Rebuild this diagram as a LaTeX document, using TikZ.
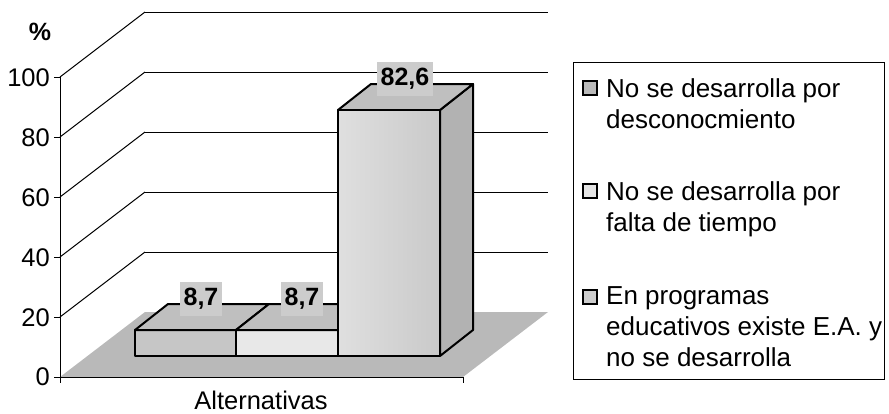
\documentclass[tikz,border=0pt]{standalone}
\usepackage{fontspec}
\setmainfont{Liberation Sans}
\usepackage{tikz}
\usetikzlibrary{positioning}

\tikzset{
  grid line/.style={line width=1},
  bar face/.style={draw, line width=2, line join=round},
  value box/.style={fill=gray!40, inner xsep=4, inner ysep=6, font=\bfseries\fontsize{25}{25}\selectfont},
  axis label/.style={anchor=east, inner sep=0, font=\fontsize{25.5}{25.5}\selectfont},
  legend key/.style={draw, line width=1.5, minimum size=14, inner sep=0},
  legend text/.style={anchor=north west, align=left, inner sep=0, font=\fontsize{26}{31}\selectfont},
}

\begin{document}
\begin{tikzpicture}[x=1pt, y=-1pt]

\useasboundingbox (0,0) rectangle (889,413);

% back wall

\draw[grid line] (145,12) -- (548,12);
\draw[grid line] (145,72) -- (548,72);
\draw[grid line] (145,132) -- (548,132);
\draw[grid line] (145,192) -- (548,192);
\draw[grid line] (145,252) -- (548,252);

% side wall

\draw[grid line] (60,77) -- (145,12);
\draw[grid line] (60,137) -- (145,72);
\draw[grid line] (60,197) -- (145,132);
\draw[grid line] (60,257) -- (145,192);
\draw[grid line] (60,317) -- (145,252);

% floor

\fill[gray!55] (60,377) -- (463,377) -- (548,312) -- (145,312) -- cycle;

% axis and ticks

\draw[grid line] (60,77) -- (60,377) -- (463,377);
\draw[grid line] (54,77) -- (60,77);
\draw[grid line] (54,137) -- (60,137);
\draw[grid line] (54,197) -- (60,197);
\draw[grid line] (54,257) -- (60,257);
\draw[grid line] (54,317) -- (60,317);
\draw[grid line] (54,377) -- (60,377);
\draw[grid line] (60,377) -- (60,383);
\draw[grid line] (463,377) -- (463,383);

\node[axis label] (l100) at (50,78) {100};
\node[axis label] (l80) at (50,138) {80};
\node[axis label] (l60) at (50,198) {60};
\node[axis label] (l40) at (50,258) {40};
\node[axis label] (l20) at (50,318) {20};
\node[axis label] (l0) at (50,377) {0};

\node[font=\bfseries\fontsize{25}{25}\selectfont] (unit) at (40,32) {\%};
\node[inner sep=0, font=\fontsize{25.5}{25.5}\selectfont] (xname) at (261,400) {Alternativas};

% bars

\draw[bar face, fill=gray!45] (135,330) rectangle (236,356);
\draw[bar face, fill=gray!50] (135,330) -- (236,330) -- (269,304) -- (168,304) -- cycle;

\draw[bar face, fill=gray!18] (236,330) rectangle (338,356);
\draw[bar face, fill=gray!50] (236,330) -- (338,330) -- (371,304) -- (269,304) -- cycle;

\draw[bar face, fill=gray!60] (440,356) -- (440,110) -- (473,84) -- (473,330) -- cycle;
\draw[bar face, fill=gray!50] (338,110) -- (440,110) -- (473,84) -- (371,84) -- cycle;
\draw[bar face, left color=gray!25, right color=gray!42] (338,110) rectangle (440,356);

% values

\node[value box] (v0) at (201,299) {8,7};
\node[value box] (v1) at (302,299) {8,7};
\node[value box] (v2) at (405,79) {82,6};

% legend

\draw[line width=1] (573,62) rectangle (884,379);

\node[legend key, fill=gray!55] (k0) at (590,88) {};
\node[legend key, fill=gray!20] (k1) at (590,191) {};
\node[legend key, fill=gray!40] (k2) at (590,297) {};

\node[legend text] (t0) at (606,78) {No se desarrolla por\\desconocmiento};
\node[legend text] (t1) at (606,181) {No se desarrolla por\\falta de tiempo};
\node[legend text] (t2) at (606,286) {En programas\\educativos existe E.A. y\\no se desarrolla};

\end{tikzpicture}
\end{document}
